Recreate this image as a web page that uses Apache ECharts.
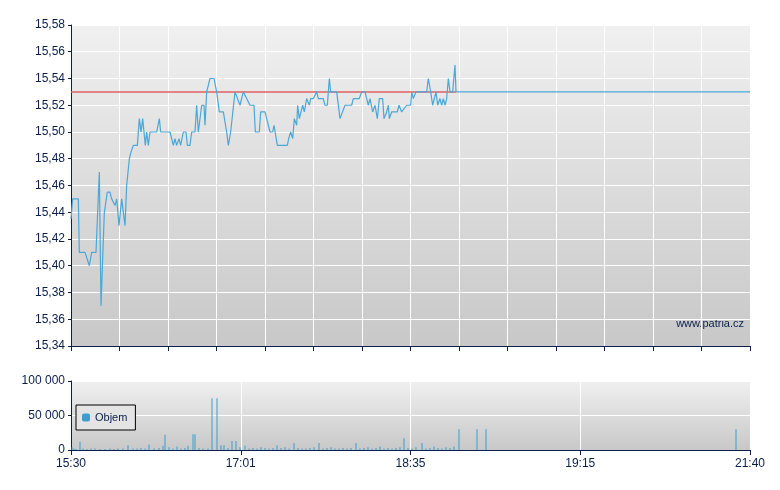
<!DOCTYPE html>
<html><head><meta charset="utf-8">
<script src="https://cdn.jsdelivr.net/npm/echarts@6/dist/echarts.min.js"></script>
<style>html,body{margin:0;padding:0;background:#fff}#c{width:780px;height:490px}</style>
</head><body><div id="c"></div>
<script>
// [time position (0..2037 = 15:30..21:40), price]
const priceData = [[0,15.435],[5,15.45],[22,15.45],[25,15.41],[42,15.41],[55,15.40],[60,15.40],[62,15.41],[75,15.41],[85,15.47],[90,15.37],[100,15.44],[109,15.455],[117,15.455],[122,15.45],[132,15.445],[137,15.45],[144,15.43],[152,15.45],[162,15.43],[167,15.46],[175,15.48],[180,15.485],[187,15.49],[199,15.49],[205,15.51],[210,15.50],[215,15.51],[220,15.51],[223,15.49],[227,15.50],[232,15.49],[237,15.50],[257,15.50],[265,15.51],[269,15.50],[282,15.50],[297,15.50],[307,15.49],[312,15.495],[317,15.49],[324,15.495],[329,15.49],[337,15.50],[345,15.50],[349,15.49],[357,15.49],[362,15.50],[372,15.50],[377,15.52],[382,15.50],[387,15.50],[392,15.52],[399,15.52],[402,15.505],[407,15.53],[417,15.54],[429,15.54],[437,15.53],[445,15.515],[457,15.515],[467,15.50],[472,15.49],[479,15.50],[483,15.50],[492,15.53],[497,15.53],[507,15.52],[512,15.52],[517,15.53],[527,15.525],[537,15.52],[549,15.52],[553,15.50],[565,15.50],[569,15.515],[582,15.515],[587,15.51],[593,15.51],[597,15.50],[605,15.50],[609,15.505],[619,15.49],[649,15.49],[653,15.495],[659,15.50],[665,15.495],[670,15.51],[677,15.505],[680,15.52],[685,15.51],[690,15.515],[695,15.52],[700,15.515],[707,15.525],[715,15.52],[719,15.525],[727,15.525],[737,15.53],[742,15.525],[757,15.525],[762,15.52],[769,15.52],[775,15.54],[779,15.53],[797,15.53],[807,15.51],[812,15.51],[822,15.52],[842,15.52],[847,15.525],[865,15.525],[872,15.53],[882,15.53],[887,15.525],[892,15.52],[897,15.525],[905,15.515],[912,15.52],[919,15.51],[925,15.525],[935,15.525],[939,15.51],[947,15.515],[952,15.52],[955,15.51],[962,15.515],[979,15.515],[984,15.52],[992,15.515],[997,15.515],[1007,15.52],[1019,15.52],[1022,15.53],[1027,15.525],[1035,15.53],[1067,15.53],[1072,15.54],[1079,15.53],[1085,15.52],[1091,15.52],[1095,15.53],[1100,15.52],[1107,15.525],[1112,15.52],[1117,15.525],[1122,15.52],[1127,15.525],[1132,15.54],[1137,15.53],[1145,15.53],[1152,15.55],[1155,15.53],[2037,15.53]];
const refPrice = 15.53;
const refEnd = 1155;
const volT = [3,9,15,27,36,48,60,72,87,102,117,129,141,156,171,186,198,210,222,234,249,264,276,282,294,306,318,330,342,351,366,372,384,396,411,423,438,450,459,471,483,495,507,522,534,546,558,570,582,594,606,618,630,642,654,669,681,693,705,717,729,744,756,768,780,792,804,816,828,840,855,867,879,891,903,915,927,939,951,963,975,987,999,1011,1023,1035,1053,1065,1077,1089,1101,1113,1125,1137,1149,1164,1218,1245,1995];
const volV = [4000,2000,1500,12000,2000,1500,2000,2000,1500,1500,2000,1500,2000,2000,7000,2000,2000,3000,2000,8000,2000,3000,6000,22000,4000,2000,5000,2000,3000,6000,23000,23000,3000,2000,2000,75000,75000,7000,7000,3000,13000,13000,4000,6000,2000,3000,2000,4000,3000,2000,3000,7000,3000,4000,2000,10000,3000,2000,2000,3000,4000,10000,2000,3000,4000,2000,2000,3000,2000,3000,10000,2000,3000,4000,2000,3000,5000,2000,3000,2000,3000,4000,17000,3000,2000,4000,10000,2000,3000,5000,3000,2000,4000,3000,5000,30000,30000,30000,30000];
const bottomLabels = ['15:30','17:01','18:35','19:15','21:40'];
const MAX = 2037;

const grad = {type:'linear',x:0,y:0,x2:0,y2:1,colorStops:[{offset:0,color:'#f0f0f0'},{offset:1,color:'#c8c8c8'}]};
const axisCol = '#0a1f4a';
const lab = {color:'#0a1f4a',fontFamily:'Liberation Sans, Arial',fontSize:12};
const chart = echarts.init(document.getElementById('c'));
chart.setOption({
  animation:false,
  grid:[
    {left:71,right:30,top:25,height:321,show:true,backgroundColor:grad,borderWidth:0},
    {left:71,right:30,top:381,height:69,show:true,backgroundColor:grad,borderWidth:0}
  ],
  legend:{left:76,top:405,orient:'vertical',data:['Objem'],backgroundColor:'#e4e4e4',borderColor:'#000',borderWidth:1,borderRadius:0,padding:[7,8,7,6],itemWidth:8,itemHeight:8,textStyle:{...lab,fontSize:11}},
  xAxis:[
    {type:'value',gridIndex:0,min:0,max:MAX,interval:MAX/14,axisLabel:{show:false},
     axisLine:{lineStyle:{color:axisCol}},axisTick:{show:true,length:5,lineStyle:{color:axisCol}},
     splitLine:{lineStyle:{color:'#fff',width:1}}},
    {type:'value',gridIndex:1,min:0,max:MAX,interval:MAX/4,
     axisLabel:{...lab,formatter:(v)=>bottomLabels[Math.round(v/(MAX/4))]},
     axisLine:{lineStyle:{color:axisCol}},axisTick:{show:true,length:5,lineStyle:{color:axisCol}},
     splitLine:{lineStyle:{color:'#fff',width:1}}}
  ],
  yAxis:[
    {type:'value',gridIndex:0,min:15.34,max:15.58,interval:0.02,
     axisLabel:{...lab,margin:6,formatter:(v)=>v.toFixed(2).replace('.',',')},
     axisLine:{show:true,lineStyle:{color:axisCol}},axisTick:{show:true,length:3,lineStyle:{color:axisCol}},
     splitLine:{lineStyle:{color:'#fff',width:1}}},
    {type:'value',gridIndex:1,min:0,max:100000,interval:50000,
     axisLabel:{...lab,margin:6,formatter:(v)=>String(v).replace(/\B(?=(\d{3})+(?!\d))/g,' ')},
     axisLine:{show:true,lineStyle:{color:axisCol}},axisTick:{show:true,length:3,lineStyle:{color:axisCol}},
     splitLine:{lineStyle:{color:'#fff',width:1}}}
  ],
  graphic:[{type:'text',right:36,top:318,style:{text:'www.patria.cz',fill:'#0a1f4a',font:'11px Liberation Sans, Arial'}}],
  series:[
    {type:'line',xAxisIndex:0,yAxisIndex:0,symbol:'none',silent:true,
     data:[[0,refPrice],[refEnd,refPrice]],lineStyle:{color:'#e06060',width:1.5},z:2},
    {type:'line',xAxisIndex:0,yAxisIndex:0,symbol:'none',
     data:priceData,lineStyle:{color:'#4aa8d8',width:1.2},z:3},
    {name:'Objem',type:'bar',xAxisIndex:1,yAxisIndex:1,barWidth:1,
     data:volT.map((t,i)=>[t,volV[i]]),itemStyle:{color:'#3a9fd0'}}
  ]
});
</script></body></html>
